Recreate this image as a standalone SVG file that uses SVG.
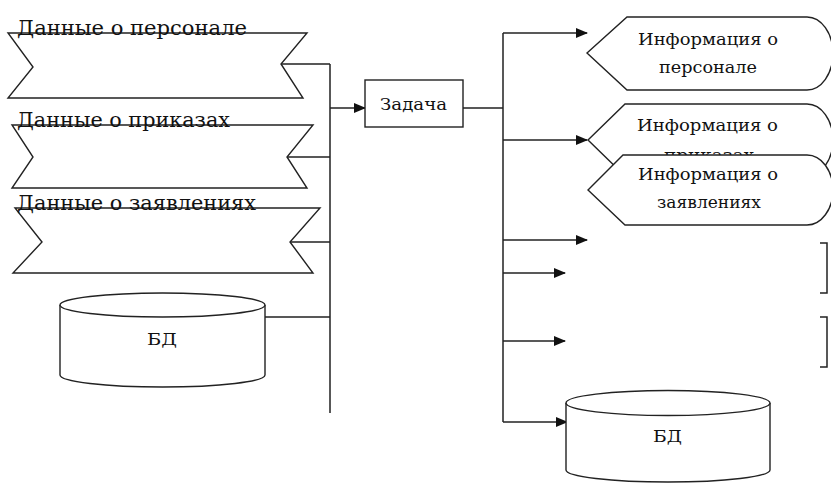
<svg xmlns="http://www.w3.org/2000/svg" width="831" height="483" viewBox="0 0 831 483">
<style>
.s{fill:#fff;stroke:#222;stroke-width:1.4;stroke-linejoin:miter}
.c{fill:none;stroke:#222;stroke-width:1.5}
.t{font-family:'DejaVu Serif','Liberation Serif',serif;fill:#111}
.l{font-size:20px}
.m{font-size:17px}
</style>
<defs>
<marker id="ah" markerWidth="12" markerHeight="10" refX="11" refY="5" orient="auto" markerUnits="userSpaceOnUse">
<path d="M0,0 L12,5 L0,10 z" fill="#111"/>
</marker>
</defs>
<g id="connectors">
<path class="c" d="M281,64 H330 M287,157 H330 M290,242 H330 M265,317 H330 M330,64 V413"/>
<path class="c" d="M330,108 H365" marker-end="url(#ah)"/>
<path class="c" d="M463,108 H503 M503,33 V422"/>
<path class="c" d="M503,33 H587" marker-end="url(#ah)"/>
<path class="c" d="M503,140 H587" marker-end="url(#ah)"/>
<path class="c" d="M503,240 H587" marker-end="url(#ah)"/>
<path class="c" d="M503,273 H565" marker-end="url(#ah)"/>
<path class="c" d="M503,341 H565" marker-end="url(#ah)"/>
<path class="c" d="M503,422 H567" marker-end="url(#ah)"/>
</g>
<g id="in1">
<polygon class="s" points="8,33 307,33 281,64 303,98 8,98 33,67"/>
<text class="t l" x="17" y="35" textLength="230" lengthAdjust="spacingAndGlyphs">Данные о персонале</text>
</g>
<g id="in2">
<polygon class="s" points="12,125 313,125 287,157 307,188 12,188 33,157"/>
<text class="t l" x="17" y="127" textLength="213" lengthAdjust="spacingAndGlyphs">Данные о приказах</text>
</g>
<g id="in3">
<polygon class="s" points="15,208 320,208 290,242 313,273 13,273 42,242"/>
<text class="t l" x="17" y="210" textLength="239" lengthAdjust="spacingAndGlyphs">Данные о заявлениях</text>
</g>
<g id="db1">
<path class="s" d="M60,305 V375 A102.5,12 0 0 0 265,375 V305"/>
<ellipse class="s" cx="162.5" cy="305" rx="102.5" ry="12"/>
<text class="t m" x="147" y="345" textLength="30" lengthAdjust="spacingAndGlyphs">БД</text>
</g>
<g id="task">
<rect class="s" x="365" y="80" width="98" height="47"/>
<text class="t m" x="380" y="110" textLength="67" lengthAdjust="spacingAndGlyphs">Задача</text>
</g>
<g id="out1">
<path class="s" d="M587,53 L627,17 H807 A26,36.5 0 0 1 807,90 H627 Z"/>
<text class="t m" x="638" y="45" textLength="140" lengthAdjust="spacingAndGlyphs">Информация о</text>
<text class="t m" x="659" y="73" textLength="98" lengthAdjust="spacingAndGlyphs">персонале</text>
</g>
<g id="out2">
<path class="s" d="M588,140 L625,104 H807 A26,36 0 0 1 807,176 H625 Z"/>
<text class="t m" x="637" y="131" textLength="141" lengthAdjust="spacingAndGlyphs">Информация о</text>
<text class="t m" x="664" y="161" textLength="90" lengthAdjust="spacingAndGlyphs">приказах</text>
</g>
<g id="out3">
<path class="s" d="M588,190 L623,155 H807 A26,35 0 0 1 807,225 H625 Z"/>
<text class="t m" x="638" y="180" textLength="140" lengthAdjust="spacingAndGlyphs">Информация о</text>
<text class="t m" x="657" y="208" textLength="104" lengthAdjust="spacingAndGlyphs">заявлениях</text>
</g>
<g id="br1">
<path class="c" d="M820,243 H827 V293 H820"/>
</g>
<g id="br2">
<path class="c" d="M820,317 H827 V367 H820"/>
</g>
<g id="db2">
<path class="s" d="M566,403 V470 A102,12 0 0 0 770,470 V403"/>
<ellipse class="s" cx="668" cy="403" rx="102" ry="12.5"/>
<text class="t m" x="653" y="442" textLength="29" lengthAdjust="spacingAndGlyphs">БД</text>
</g>
</svg>
